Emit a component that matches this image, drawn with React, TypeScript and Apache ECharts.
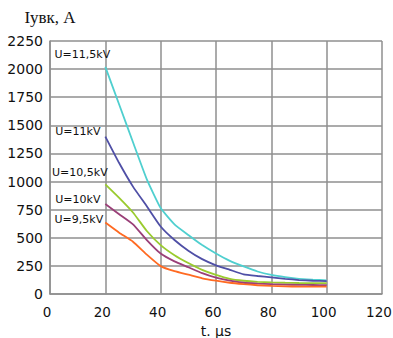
import React, { useEffect, useRef } from "react";
import * as echarts from "echarts";

const times = [20, 25, 30, 35, 40, 45, 50, 55, 60, 65, 70, 75, 80, 85, 90, 95, 100];
const u115 = [2020, 1685, 1350, 1020, 765, 620, 525, 435, 360, 295, 245, 200, 170, 150, 135, 128, 122];
const u110 = [1400, 1165, 955, 780, 600, 480, 385, 310, 255, 215, 175, 160, 148, 135, 124, 118, 115];
const u105 = [975, 855, 725, 560, 435, 345, 275, 215, 170, 135, 118, 108, 103, 100, 98, 97, 96];
const u100 = [800, 710, 620, 480, 360, 290, 238, 185, 145, 118, 100, 93, 88, 84, 81, 80, 79];
const u095 = [635, 545, 465, 350, 248, 203, 172, 140, 118, 100, 88, 78, 72, 68, 66, 65, 65];
const seriesNames = ["U=11,5kV", "U=11kV", "U=10,5kV", "U=10kV", "U=9,5kV"];
const seriesValues = [u115, u110, u105, u100, u095];
const seriesColors = ["#4fcfcf", "#4f4fa6", "#9acb2e", "#9a3f78", "#ff6a22"];
const labelOffsets = [[-23, -12], [-27.5, -5], [-25.5, -12], [-27.5, -5], [-26.5, -3]];

export default function App() {
  const ref = useRef<HTMLDivElement>(null);
  useEffect(() => {
    if (!ref.current) return;
    const chart = echarts.init(ref.current, undefined, { renderer: "svg" });
    const gridColor = "#8f8f8f";
    chart.setOption({
      animation: false,
      backgroundColor: "#ffffff",
      grid: { left: 50, right: 11, top: 41, bottom: 44, containLabel: false, outerBoundsMode: "none" },
      xAxis: {
        type: "value",
        min: 0,
        max: 120,
        interval: 20,
        name: "t. µs",
        nameLocation: "middle",
        nameGap: 28,
        nameTextStyle: { fontFamily: "DejaVu Sans", fontSize: 14, color: "#111" },
        axisLine: { lineStyle: { color: gridColor, width: 1.5 } },
        axisTick: { show: false },
        axisLabel: {
          fontFamily: "DejaVu Sans",
          fontSize: 13.5,
          color: "#111",
          margin: 11,
          padding: [0, 6, 0, 0],
        },
        splitLine: { show: true, lineStyle: { color: gridColor, width: 1.5 } },
      },
      yAxis: {
        type: "value",
        min: 0,
        max: 2250,
        interval: 250,
        name: "Iувк, A",
        nameLocation: "end",
        nameGap: 15,
        nameTextStyle: { fontFamily: "Liberation Serif", fontSize: 17, color: "#111", align: "center" },
        axisLine: { show: true, lineStyle: { color: gridColor, width: 1.5 } },
        axisTick: { show: false },
        axisLabel: {
          fontFamily: "DejaVu Sans",
          fontSize: 14,
          color: "#111",
          margin: 7,
          formatter: (v: number) => String(v),
        },
        splitLine: { show: true, lineStyle: { color: gridColor, width: 1.5 } },
      },
      series: seriesValues.map((vals, i) => ({
        name: seriesNames[i],
        type: "line",
        data: times.map((t, j) => [t, vals[j]]),
        showSymbol: false,
        symbol: "none",
        smooth: 0.15,
        lineStyle: { color: seriesColors[i], width: 1.8 },
        itemStyle: { color: seriesColors[i] },
        markPoint: {
          symbol: "circle",
          symbolSize: 1,
          itemStyle: { color: "rgba(0,0,0,0)" },
          label: {
            show: true,
            position: "inside",
            formatter: seriesNames[i],
            offset: labelOffsets[i],
            fontFamily: "DejaVu Sans",
            fontSize: 11,
            color: "#111",
          },
          data: [{ coord: [times[0], vals[0]] }],
        },
      })),
    });
    return () => chart.dispose();
  }, []);
  return (
    <div
      ref={ref}
      style={{ position: "absolute", left: 0, top: 0, width: 393, height: 338, background: "#fff" }}
    />
  );
}
